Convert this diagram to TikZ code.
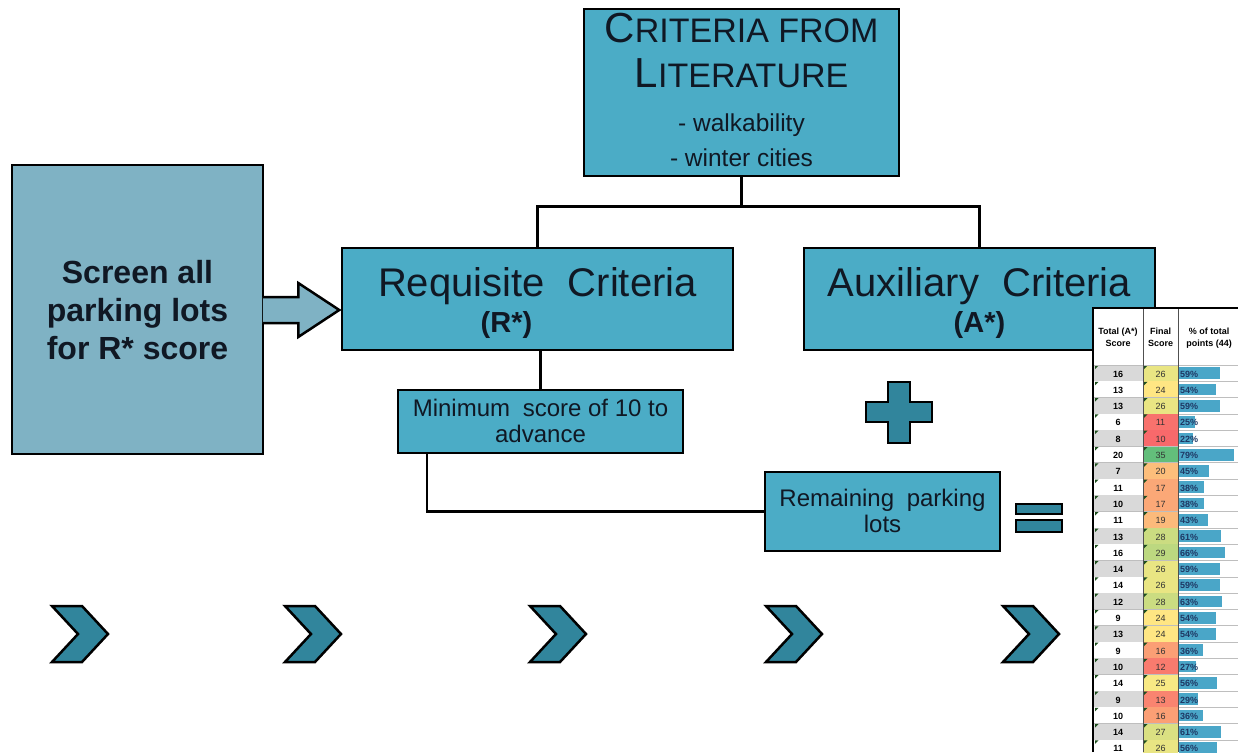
\documentclass[tikz,border=0pt]{standalone}
\usepackage{fontspec}
\setmainfont{Liberation Sans}
\usetikzlibrary{calc}
\definecolor{boxblue}{RGB}{75,172,198}
\definecolor{leftblue}{RGB}{127,178,196}
\definecolor{darkteal}{RGB}{49,133,156}
\definecolor{txt}{RGB}{16,24,36}
\definecolor{cellgray}{RGB}{217,217,217}
\definecolor{gridgray}{RGB}{190,190,190}
\definecolor{coldark}{RGB}{80,80,80}
\definecolor{barblue}{RGB}{74,166,200}
\definecolor{pcttxt}{RGB}{30,56,100}
\definecolor{markgreen}{RGB}{30,80,30}
\definecolor{c10}{RGB}{248,105,107}
\definecolor{c11}{RGB}{248,114,109}
\definecolor{c12}{RGB}{249,123,110}
\definecolor{c13}{RGB}{249,132,112}
\definecolor{c16}{RGB}{251,159,117}
\definecolor{c17}{RGB}{251,168,119}
\definecolor{c19}{RGB}{252,186,123}
\definecolor{c20}{RGB}{253,190,123}
\definecolor{c24}{RGB}{255,230,131}
\definecolor{c25}{RGB}{248,233,132}
\definecolor{c26}{RGB}{233,229,131}
\definecolor{c27}{RGB}{218,224,130}
\definecolor{c28}{RGB}{203,220,129}
\definecolor{c29}{RGB}{188,216,128}
\definecolor{c35}{RGB}{99,190,123}
\newcommand{\fsz}[1]{\fontsize{#1}{#1}\selectfont}
\tikzset{
  box/.style={draw=black, line width=2.5pt, fill=boxblue, inner sep=0pt, rectangle},
  leftbox/.style={box, fill=leftblue},
  lbl/.style={anchor=base, text=txt, inner sep=0pt},
  conn/.style={draw=black, line width=2.5pt},
  chev/.style={draw=black, line width=2.5pt, fill=darkteal, line join=miter},
  tcell/.style={inner sep=0pt, anchor=base, font=\fsz{9}\bfseries}
}
\begin{document}
\begin{tikzpicture}[x=1pt,y=-1pt]
\useasboundingbox (0,0) rectangle (1238,752);
\fill[white] (0,0) rectangle (1238,752);

% boxes
\node[box, minimum width=315pt, minimum height=167pt] (crit) at (741.5,92.5) {};
\node[box, minimum width=391pt, minimum height=102pt] (req) at (537.5,299) {};
\node[box, minimum width=351pt, minimum height=102pt] (aux) at (979.5,299) {};
\node[leftbox, minimum width=251pt, minimum height=289pt] (scr) at (137.5,309.5) {};
\node[box, minimum width=285pt, minimum height=63pt] (minb) at (540.5,421.5) {};
\node[box, minimum width=235pt, minimum height=79pt] (rem) at (882.5,511.5) {};

% texts
\node[lbl] (crit1) at (741.5,43) {\fsz{42}C\fsz{34}RITERIA FROM};
\node[lbl] (crit2) at (741.5,87) {\fsz{42}L\fsz{34}ITERATURE};
\node[lbl] (crit3) at (741.5,131) {\fsz{24.5}- walkability};
\node[lbl] (crit4) at (741.5,166) {\fsz{24.5}- winter cities};
\node[lbl] (req1) at (537.5,296) {\fsz{40}Requisite\hspace{0.3em} Criteria};
\node[lbl] (req2) at (506.5,332) {\fsz{29}\bfseries (R*)};
\node[lbl] (aux1) at (979.5,296) {\fsz{40}Auxiliary\hspace{0.3em} Criteria};
\node[lbl] (aux2) at (979.5,332) {\fsz{29}\bfseries (A*)};
\node[lbl] (scr1) at (137.5,283) {\fsz{32}\bfseries Screen all};
\node[lbl] (scr2) at (137.5,321) {\fsz{32}\bfseries parking lots};
\node[lbl] (scr3) at (137.5,359) {\fsz{32}\bfseries for R* score};
\node[lbl] (min1) at (540.5,416) {\fsz{24}Minimum\hspace{0.25em} score of 10 to};
\node[lbl] (min2) at (540.5,442) {\fsz{24}advance};
\node[lbl] (rem1) at (882.5,506) {\fsz{24}Remaining\hspace{0.25em} parking};
\node[lbl] (rem2) at (882.5,532) {\fsz{24}lots};

% connectors
\coordinate (split) at ($(crit.south)+(0,29)$);
\draw[conn] (crit.south) -- (split);
\draw[conn] (req.north) |- (split) -| (aux.north);
\draw[conn] (minb.north |- req.south) -- (minb.north);
\coordinate (minout) at ($(minb.south west)+(30,0)$);
\draw[conn] (minout) |- (rem.west);

% block arrow from screen box to requisite box
\filldraw[draw=black, line width=2.5pt, fill=leftblue, line join=miter]
  ($(scr.east)+(-1.5,-12.5)$) -- ($(scr.east)+(34,-12.5)$) -- ($(scr.east)+(34,-26.5)$)
  -- ($(scr.east)+(75,0.5)$) -- ($(scr.east)+(34,27.5)$) -- ($(scr.east)+(34,13.5)$)
  -- ($(scr.east)+(-1.5,13.5)$);

% plus sign
\draw[chev] (888,382) -- (910,382) -- (910,402) -- (932,402) -- (932,422) -- (910,422)
  -- (910,443) -- (888,443) -- (888,422) -- (866,422) -- (866,402) -- (888,402) -- cycle;
% equals sign
\draw[chev, line width=2pt] (1016,504) rectangle (1062,514);
\draw[chev, line width=2pt] (1016,520) rectangle (1062,532);

% chevrons
\foreach \cx in {52,285,530,766,1003}
  \draw[chev] (\cx,606) -- ++(30,0) -- ++(26,28) -- ++(-26,28) -- ++(-30,0) -- ++(26,-28) -- cycle;

% table
\begin{scope}
\clip (0,0) rectangle (1238,752);
\fill[white] (1093,308) rectangle (1238,752);
\node[tcell] (h11) at (1118,334) {Total (A*)};
\node[tcell] (h12) at (1118,346) {Score};
\node[tcell] (h21) at (1160.5,334) {Final};
\node[tcell] (h22) at (1160.5,346) {Score};
\node[tcell, font=\fsz{9}\bfseries] (h31) at (1209,334) {\% of total};
\node[tcell, font=\fsz{9}\bfseries] (h32) at (1209,346) {points (44)};
\foreach \i/\t/\f/\p/\cc in {0/16/26/59/cellgray,1/13/24/54/white,2/13/26/59/cellgray,
  3/6/11/25/white,4/8/10/22/cellgray,5/20/35/79/white,6/7/20/45/cellgray,7/11/17/38/white,
  8/10/17/38/cellgray,9/11/19/43/white,10/13/28/61/cellgray,11/16/29/66/white,
  12/14/26/59/cellgray,13/14/26/59/white,14/12/28/63/cellgray,15/9/24/54/white,
  16/13/24/54/cellgray,17/9/16/36/white,18/10/12/27/cellgray,19/14/25/56/white,
  20/9/13/29/cellgray,21/10/16/36/white,22/14/27/61/cellgray,23/11/26/56/white}{
  \pgfmathsetmacro\yt{365+16.3*\i}
  \pgfmathsetmacro\yb{\yt+16.3}
  \pgfmathsetmacro\ybase{\yt+12}
  \pgfmathsetmacro\bx{1179+0.72*\p-2}
  \fill[\cc] (1094,\yt) rectangle (1143,\yb);
  \fill[c\f] (1143,\yt) rectangle (1178,\yb);
  \fill[barblue] (1179,\yt+2.3) rectangle (\bx,\yb-2.3);
  \fill[markgreen] (1095,\yt+0.5) -- ++(3.5,0) -- ++(-3.5,3.5) -- cycle;
  \fill[markgreen] (1144,\yt+0.5) -- ++(3.5,0) -- ++(-3.5,3.5) -- cycle;
  \draw[gridgray, line width=0.8pt] (1093,\yb) -- (1238,\yb);
  \node[tcell] (t\i) at (1118,\ybase) {\t};
  \node[tcell, font=\fsz{9}, text=black!80] (f\i) at (1160.5,\ybase) {\f};
  \node[tcell, anchor=base west, text=pcttxt] (p\i) at (1180,\ybase) {\p\%};
}
\draw[gridgray, line width=0.8pt] (1093,365) -- (1238,365);
\draw[coldark, line width=1pt] (1143,308) -- (1143,752);
\draw[coldark, line width=1pt] (1178,308) -- (1178,752);
\draw[black, line width=2pt] (1093,752) -- (1093,308) -- (1238,308);
\end{scope}
\end{tikzpicture}
\end{document}
